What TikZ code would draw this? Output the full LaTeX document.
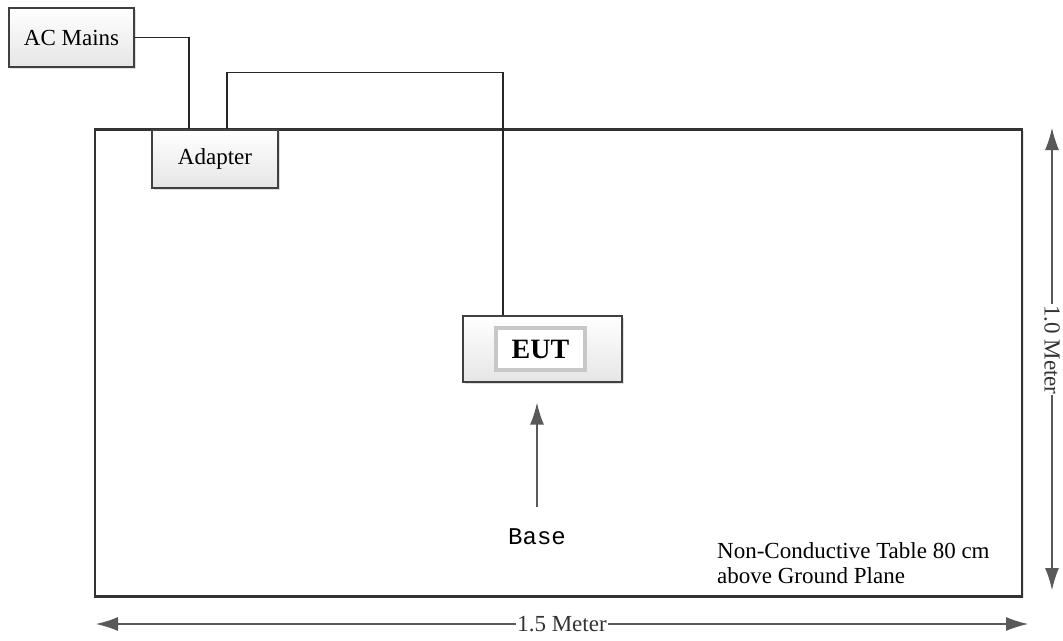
\documentclass[tikz,border=0pt]{standalone}
\usepackage{fontspec}
\setmainfont{Liberation Serif}
\setmonofont{Liberation Mono}
\usetikzlibrary{positioning,arrows.meta,shadows}

\tikzset{
  unit/.style={draw=black!75, line width=1.3pt, top color=white, bottom color=black!10,
    drop shadow={shadow xshift=2pt, shadow yshift=-2pt, opacity=.25},
    font=\fontsize{23}{25}\selectfont},
  wire/.style={draw=black!85, line width=1.4pt},
  dim/.style={draw=black!65, line width=1.1pt, {Latex[length=22pt,width=14pt]}-{Latex[length=22pt,width=14pt]}},
  dimlabel/.style={fill=white, inner sep=1pt, text=black!80, font=\fontsize{23}{25}\selectfont},
}

\begin{document}
\begin{tikzpicture}[x=1pt,y=-1pt]
    \useasboundingbox (0,0) rectangle (1063,640);

          % table and units
          \node[draw=black!80, line width=2.6pt, minimum width=927pt, minimum height=467pt,
                drop shadow={shadow xshift=1.5pt, shadow yshift=-1.5pt, opacity=.2}, fill=white]
                                   (table)   at (558.5,363) {};
          \node[unit, minimum width=125pt, minimum height=59pt]   (ac)      at (71.5,37.5) {AC Mains};
          \node[unit, minimum width=126pt, minimum height=58pt]   (adapter) at (215,159)   {Adapter};
          \node[unit, minimum width=159pt, minimum height=66pt]   (eut)     at (542.5,349) {};
          \node[draw=black!22, line width=4pt, fill=white, minimum width=89pt, minimum height=42pt,
                font=\fontsize{28}{30}\selectfont\bfseries] (eut_in) at (540.5,349) {EUT};

          % cables
          \draw[wire] (ac.east) -| ([xshift=-26pt]adapter.north);
          \draw[wire] ([xshift=12pt]adapter.north) -- ++(0,-57) -| ([xshift=-39.5pt]eut.north);

          % base
          \node[font=\fontsize{24}{25}\ttfamily, inner sep=0pt] (base) at (537,537) {Base};
          \draw[draw=black!65, line width=1.4pt, -{Latex[length=22pt,width=14pt]}]
                ([yshift=22pt]base.north) -- ([yshift=-20pt]eut.south -| base.north);

          \node[anchor=north west, align=left, inner sep=0pt, font=\fontsize{23}{25}\selectfont]
                (note) at (717,542) {Non-Conductive Table 80 cm\\above Ground Plane};

          % dimensions
          \coordinate (h_l) at (96,624);
          \coordinate (h_r) at (1028,624);
          \coordinate (v_t) at (1052,128);
          \coordinate (v_b) at (1052,590);
          \draw[dim] (h_l) -- (h_r) node[dimlabel, midway] (h_lbl) {1.5 Meter};
          \draw[dim] (v_t) -- (v_b) node[dimlabel, pos=0.48, rotate=-90] (v_lbl) {1.0 Meter};
\end{tikzpicture}
\end{document}
